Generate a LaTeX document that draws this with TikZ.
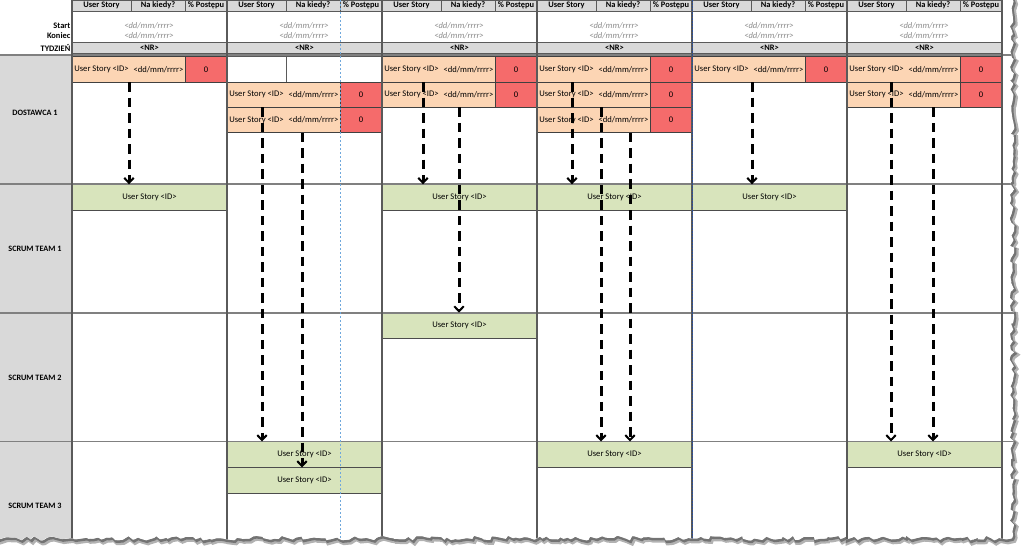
\documentclass[tikz,border=0pt]{standalone}
\usepackage{fontspec}
\setmainfont{Carlito}
\usetikzlibrary{arrows.meta,decorations.pathmorphing,calc}
\definecolor{hdrgray}{HTML}{D9D9D9}
\definecolor{orangec}{HTML}{FCD5B4}
\definecolor{redc}{HTML}{F56B6B}
\definecolor{greenc}{HTML}{D8E4BC}
\definecolor{gridc}{HTML}{5A5A5A}
\definecolor{sepc}{HTML}{808080}
\definecolor{datec}{HTML}{8C8C8C}
\definecolor{bluel}{HTML}{6FA8DC}
\definecolor{blued}{HTML}{2E4F95}
\newcommand\storycell[3]{%
  \node[orangecell] (#1) at (#2,#3) {};
  \node[redcell] (#1r) at (#2+113,#3) {0};
  \node[celltxt] (#1t) at (#2+29.5,#3+12.65) {User Story <ID>};
  \node[celltxt] (#1d) at (#2+86.5,#3+12.65) {<dd/mm/rrrr>};
}
\newcommand\greencell[4]{%
  \node[greenbox, minimum height=#4pt] (#1) at (#2,#3) {User Story <ID>};
}
\begin{document}
\begin{tikzpicture}[x=1pt,y=-1pt,
  font=\fontsize{8.6}{9}\selectfont,
  hcell/.style={draw=gridc, line width=0.6pt, fill=hdrgray, minimum height=11pt,
    inner sep=0pt, outer sep=0pt, anchor=north west, font=\fontsize{8.4}{9}\selectfont\bfseries},
  datetxt/.style={text=datec, inner sep=0pt, font=\fontsize{8.6}{9}\selectfont\itshape},
  lefttxt/.style={inner sep=0pt, anchor=east, font=\fontsize{8.4}{9}\selectfont\bfseries},
  rowlbl/.style={inner sep=0pt, font=\fontsize{8.2}{9}\selectfont\bfseries},
  orangecell/.style={draw=black!75, line width=0.6pt, fill=orangec, minimum width=113pt,
    minimum height=25.3pt, inner sep=0pt, outer sep=0pt, anchor=north west},
  redcell/.style={draw=black!75, line width=0.6pt, fill=redc, minimum width=42pt,
    minimum height=25.3pt, inner sep=0pt, outer sep=0pt, anchor=north west},
  celltxt/.style={inner sep=0pt},
  greenbox/.style={draw=black!70, line width=0.6pt, fill=greenc, minimum width=155pt,
    inner sep=0pt, outer sep=0pt, anchor=north west},
  flow/.style={line width=3pt, dash pattern=on 9.5pt off 6pt,
    -{Straight Barb[length=5pt,width=9.5pt,line width=2pt]}},
  torn/.style={decorate, decoration={random steps, segment length=4pt, amplitude=2.4pt}}
]
\useasboundingbox (0,0) rectangle (1024,549);
% shadow of torn edge
\pgfmathsetseed{4242}
\draw[black!30, line width=5pt, shift={(2,2.5)}, torn] (1012,-3) -- (1012,538) -- (-3,538);
\pgfmathsetseed{4242}
\draw[black!55, line width=2.5pt, shift={(1,1.5)}, torn] (1012,-3) -- (1012,538) -- (-3,538);
\begin{scope}
\pgfmathsetseed{4242}
\clip[torn] (1012,-3) -- (1012,538) -- (-3,538) -- (-3,-3) -- cycle;
\fill[white] (-5,-5) rectangle (1030,560);
% label column
\fill[hdrgray] (0,55) rectangle (72,560);
\node[lefttxt] (lstart) at (70.5,26) {Start};
\node[lefttxt] (lend) at (70.5,36) {Koniec};
\node[lefttxt] (lweek) at (70.5,48) {TYDZIEŃ};
\node[rowlbl] (lab1) at (35,113) {DOSTAWCA 1};
\node[rowlbl] (lab2) at (35,249) {SCRUM TEAM 1};
\node[rowlbl] (lab3) at (35,378) {SCRUM TEAM 2};
\node[rowlbl] (lab4) at (35,506) {SCRUM TEAM 3};
% header per week
\foreach \i/\x in {1/72,2/227,3/382,4/537,5/692,6/847} {
  \node[hcell, minimum width=59pt] (hu\i) at (\x,0) {User Story};
  \node[hcell, minimum width=54pt] (hn\i) at (\x+59,0) {Na kiedy?};
  \node[hcell, minimum width=42pt] (hp\i) at (\x+113,0) {\% Postępu};
  \draw[gridc, line width=0.6pt] (\x,11) rectangle (\x+155,42);
  \node[datetxt] (ds\i) at (\x+77,26) {<dd/mm/rrrr>};
  \node[datetxt] (de\i) at (\x+77,36) {<dd/mm/rrrr>};
  \node[hcell, minimum width=155pt] (nr\i) at (\x,42) {<NR>};
}
% DOSTAWCA 1 stories
\storycell{s1a}{72}{56.7}
\draw[gridc, line width=0.6pt] (227,56.7) rectangle (286,82) (286,56.7) rectangle (382,82);
\storycell{s2b}{227}{82}
\storycell{s2c}{227}{107.3}
\storycell{s3a}{382}{56.7}
\storycell{s3b}{382}{82}
\storycell{s4a}{537}{56.7}
\storycell{s4b}{537}{82}
\storycell{s4c}{537}{107.3}
\storycell{s5a}{692}{56.7}
\storycell{s6a}{847}{56.7}
\storycell{s6b}{847}{82}
% scrum team stories
\greencell{g1}{72}{184.3}{25.6}
\greencell{g3}{382}{184.3}{25.6}
\greencell{g4}{537}{184.3}{25.6}
\greencell{g5}{692}{184.3}{25.6}
\greencell{h3}{382}{312.7}{25.6}
\greencell{k2a}{227}{441.5}{26}
\greencell{k2b}{227}{467.5}{25.6}
\greencell{k4}{537}{441.5}{26}
\greencell{k6}{847}{441.5}{26}
% grid
\foreach \y in {55,184.3,312.7,441.5}
  \draw[sepc, line width=1.8pt] (0,\y) -- (1030,\y);
\foreach \x in {72,227,382,537,692,847,1002}
  \draw[gridc, line width=1.1pt] (\x,0) -- (\x,560);
\draw[bluel, line width=0.6pt, dash pattern=on 2pt off 2pt] (340,0) -- (340,560);
\draw[blued, line width=0.7pt, dash pattern=on 1.5pt off 1.5pt] (692,0) -- (692,560);
% arrows
\coordinate (x1) at (129,0);
\coordinate (x2a) at (262,0);
\coordinate (x2b) at (302,0);
\coordinate (x3a) at (423,0);
\coordinate (x3b) at (459,0);
\coordinate (x4a) at (572,0);
\coordinate (x4b) at (601,0);
\coordinate (x4c) at (630,0);
\coordinate (x5) at (752,0);
\coordinate (x6a) at (891,0);
\coordinate (x6b) at (933,0);
\draw[flow] (x1 |- s1a.south) -- (x1 |- g1.north);
\draw[flow] (x2a |- s2b.south) -- (x2a |- k2a.north);
\draw[flow] (x2b |- s2c.south) -- (x2b |- k2b.north);
\draw[flow] (x3a |- s3a.south) -- (x3a |- g3.north);
\draw[flow] (x3b |- s3b.south) -- (x3b |- h3.north);
\draw[flow] (x4a |- s4a.south) -- (x4a |- g4.north);
\draw[flow] (x4b |- s4b.south) -- (x4b |- k4.north);
\draw[flow] (x4c |- s4c.south) -- (x4c |- k4.north);
\draw[flow] (x5 |- s5a.south) -- (x5 |- g5.north);
\draw[flow] (x6a |- s6a.south) -- (x6a |- k6.north);
\draw[flow] (x6b |- s6b.south) -- (x6b |- k6.north);
\end{scope}
\end{tikzpicture}
\end{document}
